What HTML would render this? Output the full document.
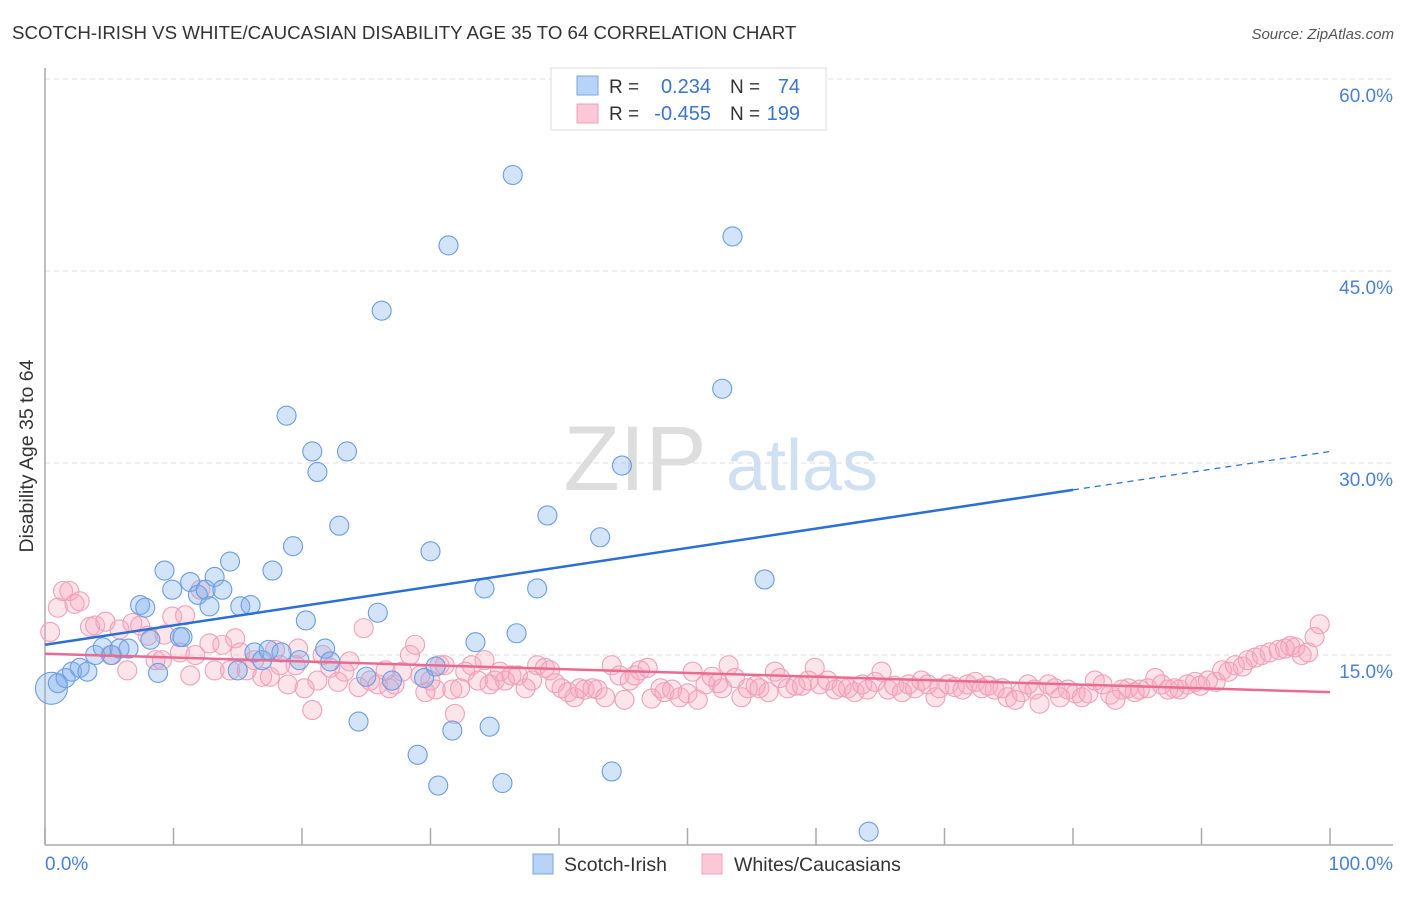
<!DOCTYPE html>
<html><head><meta charset="utf-8"><style>
body{margin:0;background:#fff;font-family:"Liberation Sans",sans-serif;}
svg text{font-family:"Liberation Sans",sans-serif;}
</style></head><body>
<svg id="chart" width="1406" height="892" xmlns="http://www.w3.org/2000/svg">
<text x="12" y="39" font-size="18.7" fill="#333">SCOTCH-IRISH VS WHITE/CAUCASIAN DISABILITY AGE 35 TO 64 CORRELATION CHART</text>
<text x="1394" y="39" font-size="15" fill="#555" text-anchor="end" font-style="italic">Source: ZipAtlas.com</text>
<g>
<text x="635" y="490" font-size="92" fill="#ddd" font-family="Liberation Serif" text-anchor="middle">ZIP</text>
<text x="802" y="490" font-size="72" fill="#cfe0f3" text-anchor="middle">atlas</text>
</g>
<g id="grid"></g>
<g id="axes"></g>
<g id="pts"></g>
<g id="trend"></g>
<text transform="translate(33,456) rotate(-90)" font-size="19.5" fill="#333" text-anchor="middle">Disability Age 35 to 64</text>
<text x="45" y="870" font-size="19" fill="#4a7fd4">0.0%</text>
<text x="1393" y="870" font-size="19" fill="#4a7fd4" text-anchor="end">100.0%</text>
<g>
<rect x="551" y="68" width="275" height="62" fill="#fff" stroke="#ddd"/>
<rect x="577" y="76" width="21" height="19" fill="#b8d3f5" stroke="#7aa5e0"/>
<rect x="577" y="104" width="21" height="19" fill="#fbc8d8" stroke="#f0a0b8"/>
<text x="609" y="93" font-size="19" fill="#333">R =</text>
<text x="711" y="93" font-size="20" fill="#3a74d0" text-anchor="end">0.234</text>
<text x="730" y="93" font-size="19" fill="#333">N =</text>
<text x="800" y="93" font-size="20" fill="#3a74d0" text-anchor="end">74</text>
<text x="609" y="120" font-size="19" fill="#333">R =</text>
<text x="711" y="120" font-size="20" fill="#3a74d0" text-anchor="end">-0.455</text>
<text x="730" y="120" font-size="19" fill="#333">N =</text>
<text x="800" y="120" font-size="20" fill="#3a74d0" text-anchor="end">199</text>
</g>
<g>
<rect x="533" y="854" width="20" height="20" fill="#b8d3f5" stroke="#7aa5e0"/>
<text x="564" y="871" font-size="19.5" fill="#333">Scotch-Irish</text>
<rect x="702" y="854" width="20" height="20" fill="#fbc8d8" stroke="#f0a0b8"/>
<text x="734" y="871" font-size="19.5" fill="#333">Whites/Caucasians</text>
</g>
</svg>
<script>
const yTicks=[15,30,45,60];
const yTickLabels=["15.0%","30.0%","45.0%","60.0%"];
const xTicks=[0,10,20,30,40,50,60,70,80,90,100];
const blueX=[0.5,1.0,1.6,2.1,2.7,3.3,3.9,4.5,5.2,5.8,6.5,7.4,7.8,8.2,8.8,9.3,9.9,10.5,10.7,11.3,11.9,12.5,12.8,13.2,13.8,14.4,15.0,15.2,16.0,16.3,16.9,17.4,17.7,18.4,18.8,19.3,19.8,20.3,20.8,21.2,21.8,22.2,22.9,23.5,24.4,25.0,25.9,26.2,27.0,29.0,29.5,30.0,30.4,30.6,31.4,31.7,33.5,34.2,34.6,35.6,36.4,36.7,38.3,39.1,43.2,44.1,44.9,52.7,53.5,56.0,64.1];
const blueY=[12.4,12.8,13.2,13.7,14.0,13.7,15.0,15.6,15.0,15.5,15.5,18.9,18.7,16.2,13.6,21.6,20.1,16.4,16.4,20.7,19.7,20.1,18.8,21.1,20.1,22.3,13.8,18.8,18.9,15.2,14.6,15.4,21.6,15.2,33.7,23.5,14.6,17.7,30.9,29.3,15.5,14.5,25.1,30.9,9.8,13.3,18.3,41.9,13.0,7.2,13.2,23.1,14.1,4.8,47.0,9.1,16.0,20.2,9.4,5.0,52.5,16.7,20.2,25.9,24.2,5.9,29.8,35.8,47.7,20.9,1.2];
const pinkX=[0.4,1.0,1.4,1.9,2.3,2.7,3.5,3.9,4.7,5.1,5.8,6.4,6.8,7.4,8.0,8.6,9.1,9.3,9.9,10.5,10.9,11.3,11.7,12.1,12.8,13.2,13.8,14.4,14.8,15.2,15.7,16.3,16.9,17.5,17.9,18.3,18.9,19.5,19.7,20.2,20.8,21.2,21.6,22.2,22.8,23.3,23.7,24.4,24.8,25.3,25.9,26.5,26.8,27.2,27.8,28.4,28.8,29.2,29.6,30.0,30.4,30.7,31.1,31.7,31.9,32.3,32.7,33.2,33.7,34.2,34.6,35.0,35.4,35.8,36.3,36.8,37.4,37.9,38.3,38.9,39.3,39.7,40.2,40.7,41.2,41.6,42.0,42.6,43.0,43.6,44.1,44.7,45.1,45.5,45.9,46.3,46.9,47.2,47.9,48.2,48.8,49.4,50.0,50.4,50.8,51.4,51.9,52.4,52.7,53.2,53.7,54.2,54.7,55.3,55.6,56.3,56.8,57.2,57.8,58.4,58.9,59.4,59.9,60.3,60.9,61.5,62.0,62.5,63.0,63.6,64.0,64.6,65.1,65.6,66.1,66.7,67.2,67.7,68.2,68.7,69.3,69.6,70.3,70.8,71.4,71.8,72.4,72.9,73.4,73.9,74.5,74.9,75.5,76.0,76.5,77.0,77.4,78.1,78.6,79.0,79.6,80.2,80.7,81.2,81.7,82.3,82.9,83.3,83.8,84.3,84.8,85.2,85.8,86.4,86.9,87.4,87.9,88.3,88.9,89.5,89.9,90.5,91.1,91.6,92.1,92.6,93.2,93.6,94.2,94.7,95.3,96.0,96.5,96.9,97.3,97.8,98.3,98.8,99.2];
const pinkY=[16.8,18.7,20.0,20.0,19.0,19.2,17.2,17.3,17.6,15.0,17.0,13.8,17.5,17.3,16.5,14.6,14.6,16.6,18.0,15.2,18.1,13.4,15.0,20.1,15.9,13.8,15.8,13.8,16.3,15.2,13.8,14.6,13.3,13.3,15.4,14.2,12.7,14.2,15.5,12.4,10.7,13.0,15.0,14.0,12.9,13.7,14.5,12.5,17.1,13.0,12.7,13.8,12.4,12.7,13.7,15.0,15.8,13.4,12.1,13.0,12.3,14.2,14.2,12.3,10.4,12.4,13.7,14.2,13.0,14.6,12.7,13.0,13.7,13.0,13.4,13.4,12.4,13.0,14.2,14.0,13.8,12.8,12.4,12.1,11.7,12.4,12.3,12.4,12.3,11.7,14.2,13.4,11.5,13.0,13.4,13.8,14.0,11.6,12.4,12.1,12.3,11.7,12.0,13.7,11.5,12.7,13.3,12.8,12.4,14.2,13.2,11.7,12.4,12.6,12.4,12.1,13.7,13.2,12.4,12.6,12.6,13.0,14.0,12.7,13.0,12.3,12.5,12.4,12.1,12.7,12.3,12.9,13.7,12.3,12.6,12.1,12.7,12.4,13.0,12.7,11.7,12.4,12.7,12.5,12.3,12.7,12.9,12.4,12.6,12.3,12.4,11.7,11.5,12.1,12.7,12.3,11.2,12.7,12.4,11.7,12.3,12.0,11.7,12.0,13.0,12.7,11.9,11.5,12.3,12.4,12.1,12.3,12.4,13.2,12.7,12.3,12.4,12.3,12.7,12.9,12.6,13.0,12.9,13.8,13.7,14.2,14.1,14.6,14.8,15.0,15.2,15.4,15.5,15.7,15.6,15.0,15.2,16.4,17.4];
const blueTrend=[[0,15.8],[80,27.9],[100,30.9]];
const pinkTrend=[[0,15.1],[100,12.1]];

const NS="http://www.w3.org/2000/svg";
const X0=45,X1=1330,Y0=847,PXPER=12.8;
const xs=v=>X0+v*(X1-X0)/100;
const ys=v=>Y0-v*PXPER;
function mk(tag,attrs,parent){const e=document.createElementNS(NS,tag);for(const k in attrs)e.setAttribute(k,attrs[k]);document.getElementById(parent).appendChild(e);return e;}

yTicks.forEach((t,i)=>{
  const l=mk('line',{x1:X0,x2:1393,y1:ys(t),y2:ys(t),stroke:'#ddd','stroke-dasharray':'5,4'},'grid');
  
  
  const tx=mk('text',{x:1393,y:ys(t)+23,'font-size':19,fill:'#4a7fd4','text-anchor':'end'},'grid');
  tx.textContent=yTickLabels[i];
  
  
});
const ax=mk('line',{x1:X0,x2:1393,y1:845,y2:845,stroke:'#aaa','stroke-width':1.5},'axes');


const ay=mk('line',{x1:X0,x2:X0,y1:68,y2:845,stroke:'#aaa','stroke-width':1.5},'axes');


xTicks.forEach(t=>{
  const l=mk('line',{x1:xs(t),x2:xs(t),y1:828,y2:845,stroke:'#aaa','stroke-width':1.5},'axes');
  
  
});
pinkX.forEach((v,i)=>{
  const c=mk('circle',{cx:xs(v),cy:ys(pinkY[i]),r:9.5,fill:'rgba(246,165,190,0.3)',stroke:'#f0a0b8','stroke-width':1.1},'pts');
  
  
});
blueX.forEach((v,i)=>{
  const c=mk('circle',{cx:xs(v),cy:ys(blueY[i]),r:i===0?16:9.5,fill:'rgba(130,175,235,0.35)',stroke:'#6a9ee0','stroke-width':1.1},'pts');
  
  
});
const b1=mk('line',{x1:xs(blueTrend[0][0]),y1:ys(blueTrend[0][1]),x2:xs(blueTrend[1][0]),y2:ys(blueTrend[1][1]),stroke:'#2a6fd6','stroke-width':2.5},'trend');


const b2=mk('line',{x1:xs(blueTrend[1][0]),y1:ys(blueTrend[1][1]),x2:xs(blueTrend[2][0]),y2:ys(blueTrend[2][1]),stroke:'#2a6fd6','stroke-width':1.2,'stroke-dasharray':'6,5'},'trend');


const p1=mk('line',{x1:xs(pinkTrend[0][0]),y1:ys(pinkTrend[0][1]),x2:xs(pinkTrend[1][0]),y2:ys(pinkTrend[1][1]),stroke:'#ea6a90','stroke-width':2.5},'trend');


</script>
</body></html>
